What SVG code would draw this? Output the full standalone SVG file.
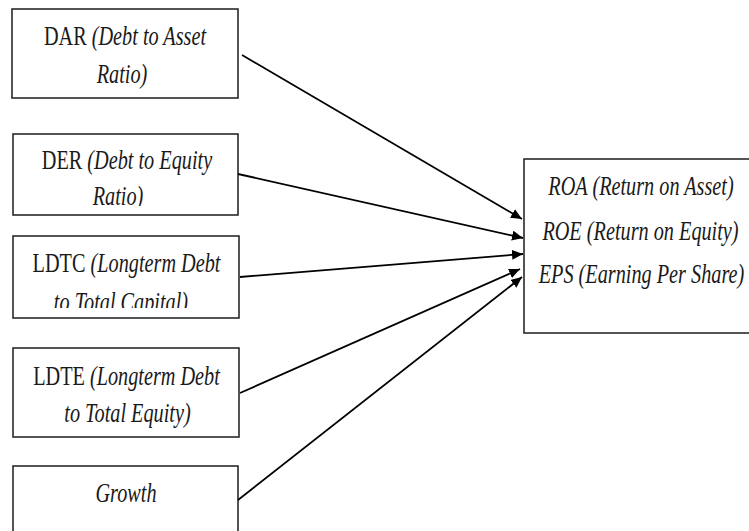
<svg xmlns="http://www.w3.org/2000/svg" width="749" height="531" viewBox="0 0 749 531">
<style>
.box{fill:#fff;stroke:#2a2a2a;stroke-width:1.6}
.c{stroke:#000;stroke-width:1.8;fill:none;marker-end:url(#ah)}
</style>
<defs>
<marker id="ah" markerUnits="userSpaceOnUse" markerWidth="12" markerHeight="10" refX="11" refY="5" orient="auto">
<path d="M0,0 L11,5 L0,10 Z" fill="#000"/>
</marker>
<clipPath id="clipDER" clipPathUnits="userSpaceOnUse"><rect x="0" y="180" width="260" height="26"/></clipPath>
<clipPath id="clipLDTC" clipPathUnits="userSpaceOnUse"><rect x="0" y="285" width="260" height="23"/></clipPath>
</defs>
<rect width="749" height="531" fill="#fff"/>
<g id="dar">
<rect class="box" x="12" y="9" width="226" height="89"/>
<g transform="scale(0.75,1)">
<text font-family="Liberation Serif" font-size="27" fill="#1a1a1a" text-anchor="middle" x="166.7" y="45">DAR <tspan font-style="italic">(Debt to Asset</tspan></text>
<text font-family="Liberation Serif" font-size="27" fill="#1a1a1a" text-anchor="middle" font-style="italic" x="162.7" y="83">Ratio)</text>
</g>
</g>
<g id="der">
<rect class="box" x="13" y="134" width="225" height="81"/>
<g transform="scale(0.75,1)">
<text font-family="Liberation Serif" font-size="27" fill="#1a1a1a" text-anchor="middle" x="169.3" y="169">DER <tspan font-style="italic">(Debt to Equity</tspan></text>
</g>
<g clip-path="url(#clipDER)"><g transform="scale(0.75,1)">
<text font-family="Liberation Serif" font-size="27" fill="#1a1a1a" text-anchor="middle" font-style="italic" x="157.3" y="205">Ratio)</text>
</g></g>
</g>
<g id="ldtc">
<rect class="box" x="13" y="236" width="226" height="82"/>
<g transform="scale(0.75,1)">
<text font-family="Liberation Serif" font-size="27" fill="#1a1a1a" text-anchor="middle" x="168.7" y="272">LDTC <tspan font-style="italic">(Longterm Debt</tspan></text>
</g>
<g clip-path="url(#clipLDTC)"><g transform="scale(0.75,1)">
<text font-family="Liberation Serif" font-size="27" fill="#1a1a1a" text-anchor="middle" font-style="italic" x="161.3" y="311">to Total Capital)</text>
</g></g>
</g>
<g id="ldte">
<rect class="box" x="13" y="348" width="226" height="89"/>
<g transform="scale(0.75,1)">
<text font-family="Liberation Serif" font-size="27" fill="#1a1a1a" text-anchor="middle" x="168.7" y="385">LDTE <tspan font-style="italic">(Longterm Debt</tspan></text>
<text font-family="Liberation Serif" font-size="27" fill="#1a1a1a" text-anchor="middle" font-style="italic" x="170" y="422">to Total Equity)</text>
</g>
</g>
<g id="growth">
<rect class="box" x="13" y="466" width="225" height="80"/>
<g transform="scale(0.75,1)">
<text font-family="Liberation Serif" font-size="27" fill="#1a1a1a" text-anchor="middle" font-style="italic" x="168" y="502">Growth</text>
</g>
</g>
<g id="outcome">
<rect class="box" x="524" y="159" width="240" height="174"/>
<g transform="scale(0.75,1)">
<text font-family="Liberation Serif" font-size="27" fill="#1a1a1a" text-anchor="middle" font-style="italic" x="854.7" y="195">ROA (Return on Asset)</text>
<text font-family="Liberation Serif" font-size="27" fill="#1a1a1a" text-anchor="middle" font-style="italic" x="854" y="240">ROE (Return on Equity)</text>
<text font-family="Liberation Serif" font-size="27" fill="#1a1a1a" text-anchor="middle" font-style="italic" x="855.3" y="283">EPS (Earning Per Share)</text>
</g>
</g>
<g id="connectors">
<line class="c" x1="242" y1="55" x2="522" y2="219"/>
<line class="c" x1="238" y1="174" x2="523" y2="238"/>
<line class="c" x1="240" y1="277" x2="523" y2="254"/>
<line class="c" x1="240" y1="393" x2="520" y2="269"/>
<line class="c" x1="238" y1="500" x2="522" y2="277"/>
</g>
</svg>
